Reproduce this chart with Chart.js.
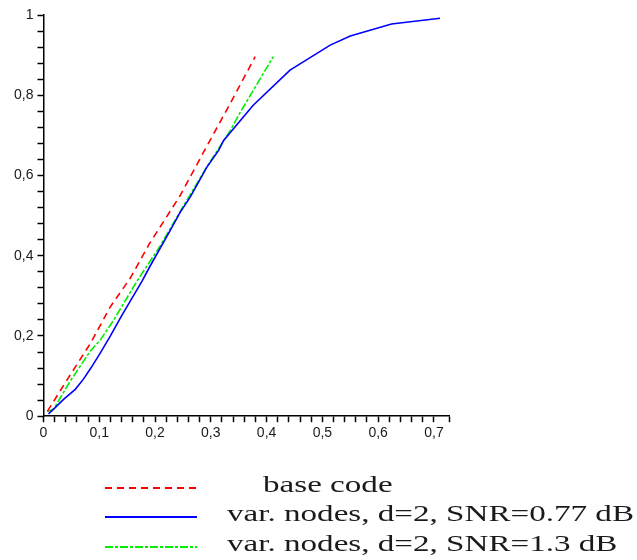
<!DOCTYPE html>
<html>
<head>
<meta charset="utf-8">
<script src="https://cdn.jsdelivr.net/npm/chart.js@4/dist/chart.umd.min.js"></script>
<style>
  body { margin: 0; background: #fff; }
</style>
</head>
<body>
<canvas id="myChart" width="637" height="560"></canvas>
<script>
const ctx = document.getElementById('myChart');

// series
var baseX = [0.007, 0.042, 0.084, 0.120, 0.156, 0.190, 0.245, 0.287, 0.335, 0.3795];
var baseY = [0.012, 0.090, 0.181, 0.273, 0.345, 0.430, 0.550, 0.658, 0.780, 0.896];

var snr077X = [0.009, 0.020, 0.036, 0.057, 0.072, 0.085, 0.102, 0.120, 0.140, 0.177, 0.1915, 0.227, 0.245, 0.263, 0.293, 0.314, 0.323, 0.376, 0.442, 0.514, 0.550, 0.624, 0.711];
var snr077Y = [0.006, 0.020, 0.042, 0.067, 0.093, 0.120, 0.158, 0.200, 0.250, 0.3375, 0.375, 0.4625, 0.508, 0.546, 0.621, 0.6625, 0.6875, 0.775, 0.8625, 0.925, 0.9475, 0.9775, 0.992];

var snr13X = [0.007, 0.018, 0.048, 0.084, 0.102, 0.126, 0.168, 0.2095, 0.245, 0.293, 0.335, 0.353, 0.412];
var snr13Y = [0.012, 0.017, 0.0875, 0.1625, 0.190, 0.240, 0.3375, 0.425, 0.510, 0.622, 0.712, 0.758, 0.896];

var seriesLabels = ['base code', 'var. nodes, d=2, SNR=0.77 dB', 'var. nodes, d=2, SNR=1.3 dB'];

function toPoints(xs, ys) {
  var pts = [];
  for (var i = 0; i < xs.length; i++) {
    pts.push({ x: xs[i], y: ys[i] });
  }
  return pts;
}

function commaLabel(step) {
  return function (value) {
    var k = value / step;
    if (Math.abs(k - Math.round(k)) > 1e-6) return '';
    var v = Math.round(k) * step;
    var s = (Math.round(v * 10) / 10).toString();
    return s.replace('.', ',');
  };
}

// legend drawn under the axes, like the original figure
const legendUnder = {
  id: 'legendUnder',
  afterDraw(chart) {
    var c = chart.ctx;
    var rows = [
      { lineY: 488, textX: 263, baseY: 492 },
      { lineY: 517, textX: 227, baseY: 521 },
      { lineY: 547, textX: 227, baseY: 551 }
    ];
    c.save();
    c.font = '23px "Liberation Serif"';
    var wide = c.measureText(seriesLabels[1]).width;
    var sx = 407 / wide;
    chart.data.datasets.forEach(function (ds, i) {
      var r = rows[i];
      c.beginPath();
      c.strokeStyle = ds.borderColor;
      c.lineWidth = 1.8;
      c.setLineDash(ds.borderDash || []);
      c.moveTo(105, r.lineY);
      c.lineTo(197, r.lineY);
      c.stroke();
      c.setLineDash([]);
      c.save();
      c.translate(r.textX, r.baseY);
      c.scale(sx, 1);
      c.fillStyle = '#1a1a1a';
      c.textBaseline = 'alphabetic';
      c.fillText(ds.label, 0, 0);
      c.restore();
    });
    c.restore();
  }
};

new Chart(ctx, {
  type: 'line',
  data: {
    datasets: [{
      label: seriesLabels[0],
      data: toPoints(baseX, baseY),
      borderColor: '#ff0000',
      borderWidth: 1.6,
      borderDash: [7, 5],
      pointRadius: 0,
      fill: false
    }, {
      label: seriesLabels[1],
      data: toPoints(snr077X, snr077Y),
      borderColor: '#0000ff',
      borderWidth: 1.6,
      pointRadius: 0,
      fill: false
    }, {
      label: seriesLabels[2],
      data: toPoints(snr13X, snr13Y),
      borderColor: '#00ee00',
      borderWidth: 1.6,
      borderDash: [8, 2, 3, 2],
      pointRadius: 0,
      fill: false
    }]
  },
  options: {
    responsive: false,
    animation: false,
    layout: { padding: { top: 15, right: 188, left: 10, bottom: 115 } },
    plugins: {
      legend: { display: false },
      tooltip: { enabled: false }
    },
    scales: {
      x: {
        type: 'linear',
        min: 0,
        max: 0.727,
        border: { color: '#000', width: 1.5 },
        grid: { drawOnChartArea: false, tickLength: 6, tickColor: '#000', tickWidth: 1.5 },
        ticks: {
          stepSize: 0.02,
          maxTicksLimit: 51,
          autoSkip: false,
          maxRotation: 0,
          padding: 3,
          color: '#1a1a1a',
          font: { family: '"Liberation Sans"', size: 14 },
          callback: commaLabel(0.1)
        }
      },
      y: {
        min: 0,
        max: 1,
        border: { color: '#000', width: 1.5 },
        grid: { drawOnChartArea: false, tickLength: 6, tickColor: '#000', tickWidth: 1.5 },
        ticks: {
          stepSize: 0.04,
          maxTicksLimit: 31,
          autoSkip: false,
          padding: 4,
          color: '#1a1a1a',
          font: { family: '"Liberation Sans"', size: 14 },
          callback: commaLabel(0.2)
        }
      }
    }
  },
  plugins: [legendUnder]
});
</script>
</body>
</html>
